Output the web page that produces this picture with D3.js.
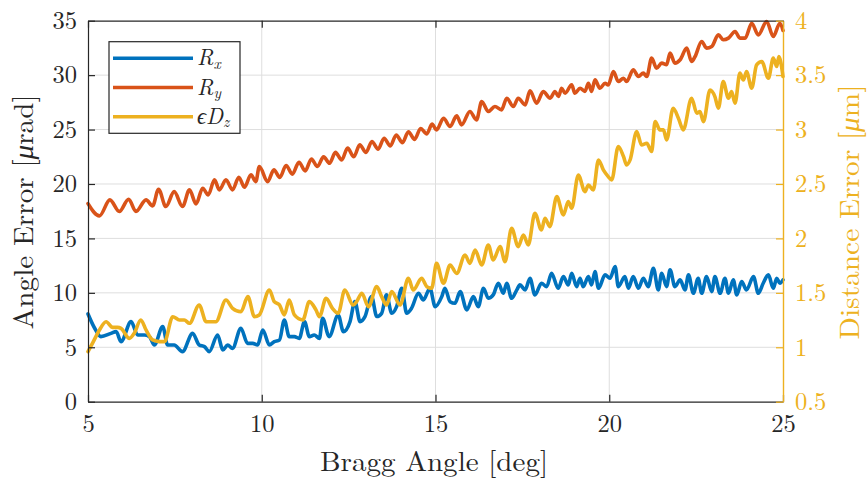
<!DOCTYPE html>
<html>
<head>
<meta charset="utf-8">
<script src="https://cdn.jsdelivr.net/npm/d3@7"></script>
<style>
  body { margin: 0; background: #fff; }
  svg { display: block; }
</style>
</head>
<body>
<svg id="chart" width="868" height="481"></svg>
<script>
// Tick values
const xTicks = [5, 10, 15, 20, 25];
const leftTicks = [0, 5, 10, 15, 20, 25, 30, 35];
const rightTicks = [0.5, 1, 1.5, 2, 2.5, 3, 3.5, 4];

// R_x angle error [µrad] vs Bragg angle [deg]
const rxAngle = [5.00,5.20,5.37,5.66,5.81,5.95,6.24,6.43,6.62,6.77,6.91,7.15,7.29,7.48,7.72,8.01,8.20,8.35,8.49,8.73,8.88,9.02,9.16,9.40,9.59,9.74,9.88,10.03,10.22,10.36,10.51,10.65,10.79,10.94,11.08,11.23,11.37,11.51,11.66,11.75,11.94,12.20,12.35,12.54,12.68,12.83,12.97,13.16,13.31,13.45,13.59,13.74,13.88,14.03,14.17,14.31,14.51,14.65,14.84,14.99,15.18,15.27,15.42,15.56,15.71,15.90,16.09,16.23,16.38,16.52,16.66,16.81,16.95,17.05,17.19,17.34,17.43,17.58,17.72,17.86,18.05,18.20,18.34,18.53,18.68,18.82,18.92,19.06,19.16,19.25,19.40,19.49,19.59,19.69,19.88,20.02,20.17,20.26,20.45,20.55,20.69,20.84,20.98,21.12,21.27,21.41,21.51,21.65,21.75,21.89,22.04,22.18,22.28,22.42,22.56,22.66,22.80,22.95,23.04,23.19,23.33,23.43,23.57,23.67,23.81,23.95,24.15,24.29,24.43,24.58,24.72,24.82,24.91,25.00];
const rxValue = [8.06,6.70,5.98,6.28,6.44,5.52,7.36,6.13,6.13,5.98,5.21,6.90,5.21,5.21,4.60,6.28,5.21,5.06,4.60,6.13,4.75,5.21,4.90,6.74,5.36,5.36,5.21,6.59,5.21,5.52,5.67,7.51,5.98,5.98,5.82,7.36,5.98,6.13,5.82,7.66,5.98,7.97,6.44,7.36,9.19,7.36,7.82,9.65,7.82,8.12,9.81,8.12,8.73,10.42,8.12,8.58,9.96,9.35,10.42,8.73,9.65,10.42,9.19,9.04,10.11,8.43,9.65,8.73,10.42,9.50,9.81,10.88,9.96,10.88,9.50,10.27,10.73,10.27,11.34,9.81,10.88,10.57,11.80,10.42,11.49,10.73,11.80,10.57,11.34,10.57,11.49,10.73,11.95,10.42,11.65,11.34,12.41,10.57,11.49,10.42,11.49,10.42,11.34,10.57,12.26,10.27,11.80,10.57,12.11,10.57,11.19,10.27,11.65,9.96,11.34,9.96,11.49,10.11,11.49,9.96,11.34,9.96,11.19,9.81,11.03,10.27,11.49,9.96,10.88,11.65,10.42,11.34,10.88,11.19];

// R_y angle error [µrad]
const ryAngle = [5.00,5.33,5.63,5.90,6.17,6.38,6.67,6.86,7.03,7.24,7.48,7.72,7.92,8.11,8.30,8.46,8.64,8.78,8.97,9.16,9.34,9.50,9.69,9.83,9.93,10.17,10.35,10.52,10.70,10.88,11.07,11.25,11.43,11.60,11.78,11.95,12.12,12.30,12.47,12.65,12.82,13.00,13.17,13.35,13.52,13.70,13.87,14.05,14.22,14.40,14.57,14.75,14.90,15.03,15.23,15.42,15.61,15.75,15.99,16.18,16.33,16.52,16.71,16.90,17.05,17.24,17.38,17.58,17.72,17.91,18.10,18.30,18.44,18.54,18.63,18.73,18.92,19.01,19.16,19.30,19.40,19.49,19.59,19.73,19.88,19.97,20.12,20.26,20.41,20.50,20.69,20.84,20.98,21.08,21.22,21.36,21.51,21.65,21.75,21.89,22.04,22.23,22.37,22.47,22.66,22.80,22.95,23.14,23.28,23.43,23.62,23.76,23.91,24.10,24.29,24.53,24.72,24.91,25.00];
const ryValue = [18.20,17.07,18.54,17.47,18.60,17.47,18.54,17.99,19.52,17.93,19.30,17.93,19.46,18.17,19.61,19.00,20.38,19.46,20.38,19.46,20.62,19.70,20.84,20.22,21.60,20.22,21.30,20.60,21.70,20.90,22.00,21.20,22.30,21.60,22.50,21.90,22.90,22.20,23.30,22.50,23.60,22.90,23.90,23.20,24.20,23.50,24.50,23.80,24.80,24.10,25.10,24.60,25.50,24.97,26.04,25.28,26.26,25.43,26.66,25.89,27.57,26.66,27.12,26.81,27.88,27.12,27.88,27.27,28.56,27.42,28.49,27.88,28.50,28.04,28.80,28.34,29.11,28.34,28.80,28.50,29.26,28.50,29.57,28.80,29.26,29.10,30.33,29.41,29.72,29.41,30.49,29.87,30.18,29.87,31.56,30.64,31.10,30.95,32.02,31.10,31.41,32.48,31.25,31.71,33.09,32.48,32.63,33.70,33.25,33.40,34.01,33.40,33.40,34.77,33.70,34.93,33.55,34.77,34.10];

// εD_z distance error [µm]
const dzAngle = [5.00,5.15,5.33,5.52,5.71,5.85,5.95,6.19,6.33,6.52,6.67,6.86,7.05,7.20,7.44,7.63,7.77,7.92,8.20,8.40,8.54,8.68,8.97,9.16,9.40,9.60,9.79,9.93,10.22,10.36,10.51,10.65,10.79,10.94,11.18,11.37,11.56,11.66,11.85,12.03,12.20,12.39,12.63,12.73,12.88,13.07,13.31,13.45,13.59,13.74,13.98,14.22,14.36,14.60,14.75,14.89,15.03,15.23,15.42,15.61,15.85,15.99,16.14,16.33,16.52,16.66,16.86,17.00,17.19,17.38,17.53,17.67,17.86,18.05,18.15,18.29,18.49,18.68,18.82,18.92,19.11,19.30,19.40,19.54,19.69,19.83,19.97,20.07,20.26,20.41,20.50,20.60,20.79,20.93,21.08,21.22,21.32,21.46,21.56,21.65,21.84,21.99,22.13,22.37,22.52,22.61,22.71,22.90,23.04,23.14,23.28,23.43,23.52,23.62,23.76,23.86,23.95,24.10,24.24,24.39,24.58,24.72,24.82,24.88,25.00];
const dzValue = [0.960,1.050,1.159,1.235,1.183,1.183,1.174,1.082,1.128,1.251,1.159,1.067,1.052,1.052,1.281,1.251,1.251,1.220,1.389,1.235,1.235,1.235,1.434,1.358,1.327,1.465,1.281,1.297,1.526,1.419,1.389,1.297,1.434,1.297,1.251,1.419,1.343,1.281,1.450,1.360,1.312,1.526,1.388,1.419,1.496,1.373,1.557,1.465,1.388,1.511,1.388,1.633,1.526,1.633,1.557,1.542,1.771,1.588,1.756,1.679,1.848,1.771,1.894,1.756,1.940,1.802,1.925,1.787,2.093,1.925,2.032,1.940,2.231,2.078,2.185,2.108,2.384,2.216,2.338,2.277,2.583,2.430,2.491,2.445,2.721,2.629,2.568,2.537,2.844,2.752,2.675,2.721,2.982,2.859,2.874,2.798,3.073,2.997,2.997,2.905,3.196,3.104,2.997,3.288,3.150,3.165,3.073,3.364,3.303,3.196,3.441,3.288,3.349,3.242,3.518,3.456,3.533,3.380,3.594,3.625,3.472,3.656,3.579,3.671,3.487];

const BLUE = "#0072BD", ORANGE = "#D95319", YELLOW = "#EDB120";
const INK = "#262626";
const FONT = '"Latin Modern Roman", "Liberation Serif", serif';

const svg = d3.select("#chart");
const L = 88, R = 783, T = 20.7, B = 401.7;

const x = d3.scaleLinear().domain([5, 25]).range([L, R]);
const yL = d3.scaleLinear().domain([0, 35]).range([B, T]);
const yR = d3.scaleLinear().domain([0.5, 4]).range([B, T]);

// grid
const grid = svg.append("g").attr("stroke", "#dedede").attr("stroke-width", 1);
grid.selectAll("line.v").data(xTicks.filter(d => d > 5 && d < 25)).join("line")
  .attr("x1", d => x(d)).attr("x2", d => x(d)).attr("y1", T).attr("y2", B);
grid.selectAll("line.h").data(leftTicks.filter(d => d > 0 && d < 35)).join("line")
  .attr("x1", L).attr("x2", R).attr("y1", d => yL(d)).attr("y2", d => yL(d));

// series
function series(angles, values, yScale, color) {
  const pts = angles.map((a, i) => [a, values[i]]);
  const line = d3.line().x(d => x(d[0])).y(d => yScale(d[1])).curve(d3.curveMonotoneX);
  svg.append("path").datum(pts).attr("d", line)
    .attr("fill", "none").attr("stroke", color).attr("stroke-width", 3.6)
    .attr("stroke-linejoin", "round").attr("stroke-linecap", "round");
}
series(rxAngle, rxValue, yL, BLUE);
series(ryAngle, ryValue, yL, ORANGE);
series(dzAngle, dzValue, yR, YELLOW);

// axes
const fmt = d => String(d);
const gx = svg.append("g").attr("transform", `translate(0,${B})`)
  .call(d3.axisBottom(x).tickValues(xTicks).tickFormat(fmt).tickSize(-7).tickSizeOuter(0).tickPadding(13));
const gxTop = svg.append("g").attr("transform", `translate(0,${T})`)
  .call(d3.axisTop(x).tickValues(xTicks).tickFormat("").tickSize(-7).tickSizeOuter(0));
const gl = svg.append("g").attr("transform", `translate(${L},0)`)
  .call(d3.axisLeft(yL).tickValues(leftTicks).tickFormat(fmt).tickSize(-7).tickSizeOuter(0).tickPadding(11));
const gr = svg.append("g").attr("transform", `translate(${R},0)`)
  .call(d3.axisRight(yR).tickValues(rightTicks).tickFormat(fmt).tickSize(-7).tickSizeOuter(0).tickPadding(12));

[gx, gxTop, gl].forEach(g => {
  g.select(".domain").attr("stroke", INK).attr("stroke-width", 1.2);
  g.selectAll(".tick line").attr("stroke", INK).attr("stroke-width", 1.2);
  g.selectAll("text").attr("fill", INK).style("font-family", FONT).style("font-size", "24.5px");
});
gr.select(".domain").attr("stroke", YELLOW).attr("stroke-width", 1.4);
gr.selectAll(".tick line").attr("stroke", YELLOW).attr("stroke-width", 1.2);
gr.selectAll("text").attr("fill", YELLOW).style("font-family", FONT).style("font-size", "24.5px");

// axis titles
svg.append("text").attr("x", 434).attr("y", 471).attr("text-anchor", "middle")
  .attr("fill", INK).style("font-family", FONT).style("font-size", "27.5px")
  .attr("textLength", 228).attr("lengthAdjust", "spacingAndGlyphs")
  .text("Bragg Angle [deg]");

const yl = svg.append("text").attr("transform", "translate(33,212) rotate(-90)")
  .attr("text-anchor", "middle").attr("fill", INK)
  .style("font-family", FONT).style("font-size", "27.5px")
  .attr("textLength", 235).attr("lengthAdjust", "spacingAndGlyphs");
yl.append("tspan").text("Angle Error [");
yl.append("tspan").style("font-style", "italic").text("μ");
yl.append("tspan").text("rad]");

const yr = svg.append("text").attr("transform", "translate(859,212) rotate(-90)")
  .attr("text-anchor", "middle").attr("fill", YELLOW)
  .style("font-family", FONT).style("font-size", "27.5px")
  .attr("textLength", 255).attr("lengthAdjust", "spacingAndGlyphs");
yr.append("tspan").text("Distance Error [");
yr.append("tspan").style("font-style", "italic").text("μ");
yr.append("tspan").text("m]");

// legend
const leg = svg.append("g");
leg.append("rect").attr("x", 109).attr("y", 41.7).attr("width", 131).attr("height", 91.6)
  .attr("fill", "#fff").attr("stroke", INK).attr("stroke-width", 1.2);
const entries = [
  { color: BLUE, main: "R", sub: "x" },
  { color: ORANGE, main: "R", sub: "y" },
  { color: YELLOW, main: "ϵD", sub: "z" }
];
entries.forEach((e, i) => {
  const cy = 58.3 + i * 29.2;
  leg.append("line").attr("x1", 113).attr("x2", 193).attr("y1", cy).attr("y2", cy)
    .attr("stroke", e.color).attr("stroke-width", 3.6);
  const t = leg.append("text").attr("x", 197).attr("y", cy + 7)
    .attr("fill", INK).style("font-family", FONT).style("font-size", "22.5px").style("font-style", "italic");
  t.append("tspan").text(e.main);
  t.append("tspan").attr("dy", 3.5).style("font-size", "15.5px").text(e.sub);
});
</script>
</body>
</html>
